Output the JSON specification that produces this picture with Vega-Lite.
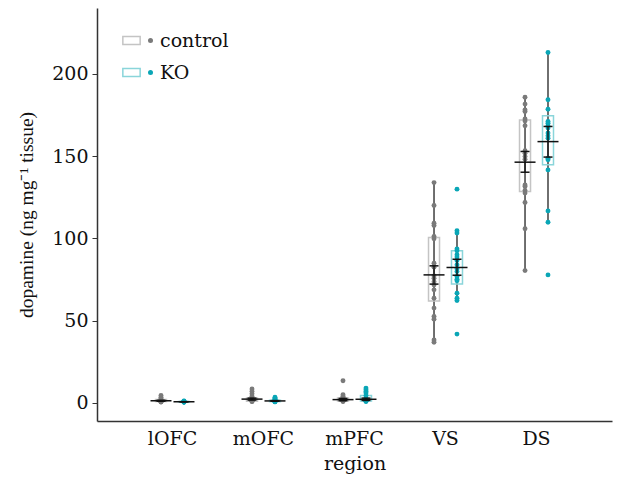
{
  "$schema": "https://vega.github.io/schema/vega-lite/v6.json",
  "width": 515,
  "height": 413,
  "autosize": {"type": "none"},
  "padding": {"left": 97, "top": 8, "right": 16, "bottom": 63},
  "background": "white",
  "config": {
    "view": {"stroke": null},
    "font": "DejaVu Serif",
    "axis": {"labelFont": "DejaVu Serif", "titleFont": "DejaVu Serif", "labelFontSize": 19, "titleFontSize": 19, "titleFontWeight": "normal", "labelColor": "#111", "titleColor": "#111", "domainColor": "#333", "domainWidth": 1.5, "tickColor": "#333", "grid": false},
    "legend": {"labelFont": "DejaVu Serif", "labelFontSize": 19, "labelColor": "#111"}
  },
  "datasets": {
    "pts": [
      {"region": "lOFC", "group": "control", "v": 4.5}, {"region": "lOFC", "group": "control", "v": 3.5}, {"region": "lOFC", "group": "control", "v": 2.5}, {"region": "lOFC", "group": "control", "v": 2}, {"region": "lOFC", "group": "control", "v": 1.5}, {"region": "lOFC", "group": "control", "v": 1.2}, {"region": "lOFC", "group": "control", "v": 1}, {"region": "lOFC", "group": "control", "v": 0.9}, {"region": "lOFC", "group": "control", "v": 0.8}, {"region": "lOFC", "group": "control", "v": 0.7}, {"region": "lOFC", "group": "control", "v": 0.6}, {"region": "lOFC", "group": "control", "v": 0.5}, {"region": "lOFC", "group": "control", "v": 1.1}, {"region": "lOFC", "group": "control", "v": 1.3},
      {"region": "lOFC", "group": "KO", "v": 1.2}, {"region": "lOFC", "group": "KO", "v": 1}, {"region": "lOFC", "group": "KO", "v": 0.9}, {"region": "lOFC", "group": "KO", "v": 0.8}, {"region": "lOFC", "group": "KO", "v": 0.7}, {"region": "lOFC", "group": "KO", "v": 0.6}, {"region": "lOFC", "group": "KO", "v": 0.5}, {"region": "lOFC", "group": "KO", "v": 0.5}, {"region": "lOFC", "group": "KO", "v": 0.4}, {"region": "lOFC", "group": "KO", "v": 0.6}, {"region": "lOFC", "group": "KO", "v": 0.7}, {"region": "lOFC", "group": "KO", "v": 0.8},
      {"region": "mOFC", "group": "control", "v": 8.5}, {"region": "mOFC", "group": "control", "v": 7}, {"region": "mOFC", "group": "control", "v": 5.5}, {"region": "mOFC", "group": "control", "v": 4}, {"region": "mOFC", "group": "control", "v": 3}, {"region": "mOFC", "group": "control", "v": 2.5}, {"region": "mOFC", "group": "control", "v": 2}, {"region": "mOFC", "group": "control", "v": 1.8}, {"region": "mOFC", "group": "control", "v": 1.5}, {"region": "mOFC", "group": "control", "v": 1.3}, {"region": "mOFC", "group": "control", "v": 1.2}, {"region": "mOFC", "group": "control", "v": 1}, {"region": "mOFC", "group": "control", "v": 0.9}, {"region": "mOFC", "group": "control", "v": 0.8},
      {"region": "mOFC", "group": "KO", "v": 3.5}, {"region": "mOFC", "group": "KO", "v": 2.8}, {"region": "mOFC", "group": "KO", "v": 2.2}, {"region": "mOFC", "group": "KO", "v": 1.8}, {"region": "mOFC", "group": "KO", "v": 1.5}, {"region": "mOFC", "group": "KO", "v": 1.3}, {"region": "mOFC", "group": "KO", "v": 1.1}, {"region": "mOFC", "group": "KO", "v": 1}, {"region": "mOFC", "group": "KO", "v": 0.9}, {"region": "mOFC", "group": "KO", "v": 0.8}, {"region": "mOFC", "group": "KO", "v": 0.7}, {"region": "mOFC", "group": "KO", "v": 0.6},
      {"region": "mPFC", "group": "control", "v": 13.5}, {"region": "mPFC", "group": "control", "v": 5}, {"region": "mPFC", "group": "control", "v": 4}, {"region": "mPFC", "group": "control", "v": 3.2}, {"region": "mPFC", "group": "control", "v": 2.8}, {"region": "mPFC", "group": "control", "v": 2.5}, {"region": "mPFC", "group": "control", "v": 2}, {"region": "mPFC", "group": "control", "v": 1.8}, {"region": "mPFC", "group": "control", "v": 1.5}, {"region": "mPFC", "group": "control", "v": 1.2}, {"region": "mPFC", "group": "control", "v": 1}, {"region": "mPFC", "group": "control", "v": 0.8},
      {"region": "mPFC", "group": "KO", "v": 9}, {"region": "mPFC", "group": "KO", "v": 8}, {"region": "mPFC", "group": "KO", "v": 7}, {"region": "mPFC", "group": "KO", "v": 6}, {"region": "mPFC", "group": "KO", "v": 4.5}, {"region": "mPFC", "group": "KO", "v": 3}, {"region": "mPFC", "group": "KO", "v": 2.5}, {"region": "mPFC", "group": "KO", "v": 2}, {"region": "mPFC", "group": "KO", "v": 1.5}, {"region": "mPFC", "group": "KO", "v": 1.2}, {"region": "mPFC", "group": "KO", "v": 1}, {"region": "mPFC", "group": "KO", "v": 0.8},
      {"region": "VS", "group": "control", "v": 133.9}, {"region": "VS", "group": "control", "v": 120}, {"region": "VS", "group": "control", "v": 109.2}, {"region": "VS", "group": "control", "v": 107.8}, {"region": "VS", "group": "control", "v": 101.1}, {"region": "VS", "group": "control", "v": 99.7}, {"region": "VS", "group": "control", "v": 84.9}, {"region": "VS", "group": "control", "v": 82.5}, {"region": "VS", "group": "control", "v": 77.2}, {"region": "VS", "group": "control", "v": 75.8}, {"region": "VS", "group": "control", "v": 73.7}, {"region": "VS", "group": "control", "v": 71.7}, {"region": "VS", "group": "control", "v": 68.7}, {"region": "VS", "group": "control", "v": 63.6}, {"region": "VS", "group": "control", "v": 57.6}, {"region": "VS", "group": "control", "v": 52.5}, {"region": "VS", "group": "control", "v": 50.9}, {"region": "VS", "group": "control", "v": 38.3}, {"region": "VS", "group": "control", "v": 36.9},
      {"region": "VS", "group": "KO", "v": 129.9}, {"region": "VS", "group": "KO", "v": 104.6}, {"region": "VS", "group": "KO", "v": 103.2}, {"region": "VS", "group": "KO", "v": 93.6}, {"region": "VS", "group": "KO", "v": 92.4}, {"region": "VS", "group": "KO", "v": 90}, {"region": "VS", "group": "KO", "v": 88.6}, {"region": "VS", "group": "KO", "v": 86.5}, {"region": "VS", "group": "KO", "v": 83.9}, {"region": "VS", "group": "KO", "v": 81.5}, {"region": "VS", "group": "KO", "v": 79.8}, {"region": "VS", "group": "KO", "v": 76.8}, {"region": "VS", "group": "KO", "v": 75.2}, {"region": "VS", "group": "KO", "v": 74.2}, {"region": "VS", "group": "KO", "v": 66.7}, {"region": "VS", "group": "KO", "v": 63.6}, {"region": "VS", "group": "KO", "v": 62.2}, {"region": "VS", "group": "KO", "v": 41.8},
      {"region": "DS", "group": "control", "v": 185.8}, {"region": "DS", "group": "control", "v": 181.6}, {"region": "DS", "group": "control", "v": 178.1}, {"region": "DS", "group": "control", "v": 177.1}, {"region": "DS", "group": "control", "v": 172.6}, {"region": "DS", "group": "control", "v": 171.4}, {"region": "DS", "group": "control", "v": 168.4}, {"region": "DS", "group": "control", "v": 153.2}, {"region": "DS", "group": "control", "v": 151.8}, {"region": "DS", "group": "control", "v": 149.7}, {"region": "DS", "group": "control", "v": 148.1}, {"region": "DS", "group": "control", "v": 132.5}, {"region": "DS", "group": "control", "v": 131.5}, {"region": "DS", "group": "control", "v": 129.1}, {"region": "DS", "group": "control", "v": 127.5}, {"region": "DS", "group": "control", "v": 121.8}, {"region": "DS", "group": "control", "v": 105.8}, {"region": "DS", "group": "control", "v": 80.4},
      {"region": "DS", "group": "KO", "v": 213}, {"region": "DS", "group": "KO", "v": 184.2}, {"region": "DS", "group": "KO", "v": 178.5}, {"region": "DS", "group": "KO", "v": 171}, {"region": "DS", "group": "KO", "v": 170}, {"region": "DS", "group": "KO", "v": 168.4}, {"region": "DS", "group": "KO", "v": 167}, {"region": "DS", "group": "KO", "v": 164}, {"region": "DS", "group": "KO", "v": 162.3}, {"region": "DS", "group": "KO", "v": 160.9}, {"region": "DS", "group": "KO", "v": 148.7}, {"region": "DS", "group": "KO", "v": 147.7}, {"region": "DS", "group": "KO", "v": 141.6}, {"region": "DS", "group": "KO", "v": 116.7}, {"region": "DS", "group": "KO", "v": 109.8}, {"region": "DS", "group": "KO", "v": 77.8}
    ],
    "sum": [
      {"region": "lOFC", "group": "control", "q1": 0.8, "q3": 2, "wlo": 0.5, "whi": 3.5, "mean": 1.3, "semlo": 1.0, "semhi": 1.6},
      {"region": "lOFC", "group": "KO", "q1": 0.55, "q3": 0.85, "wlo": 0.4, "whi": 1.2, "mean": 0.7, "semlo": 0.63, "semhi": 0.77},
      {"region": "mOFC", "group": "control", "q1": 1, "q3": 3, "wlo": 0.8, "whi": 5.5, "mean": 2.3, "semlo": 1.7, "semhi": 2.9},
      {"region": "mOFC", "group": "KO", "q1": 0.8, "q3": 1.6, "wlo": 0.6, "whi": 2.8, "mean": 1.2, "semlo": 1.0, "semhi": 1.4},
      {"region": "mPFC", "group": "control", "q1": 1.2, "q3": 3, "wlo": 0.8, "whi": 5, "mean": 2.0, "semlo": 1.3, "semhi": 2.7},
      {"region": "mPFC", "group": "KO", "q1": 1.2, "q3": 4.5, "wlo": 0.8, "whi": 9, "mean": 2.2, "semlo": 1.5, "semhi": 2.9},
      {"region": "VS", "group": "control", "q1": 62, "q3": 100.5, "wlo": 36.9, "whi": 133.9, "mean": 77.8, "semlo": 72.2, "semhi": 83.3},
      {"region": "VS", "group": "KO", "q1": 72.3, "q3": 92.4, "wlo": 62.2, "whi": 104.6, "mean": 82.3, "semlo": 77.6, "semhi": 87.3},
      {"region": "DS", "group": "control", "q1": 128.5, "q3": 172, "wlo": 80.4, "whi": 185.8, "mean": 146.3, "semlo": 140.2, "semhi": 152.8},
      {"region": "DS", "group": "KO", "q1": 144.7, "q3": 174.5, "wlo": 109.8, "whi": 213, "mean": 158.8, "semlo": 149.4, "semhi": 168}
    ]
  },
  "encoding": {
    "x": {
      "field": "region", "type": "nominal", "sort": ["lOFC", "mOFC", "mPFC", "VS", "DS"],
      "scale": {"type": "band", "paddingInner": 0.495, "paddingOuter": 0.577},
      "title": "region",
      "axis": {"ticks": false, "labelAngle": 0, "labelPadding": 8, "titlePadding": 6}
    },
    "xOffset": {"field": "group", "type": "nominal", "sort": ["control", "KO"], "scale": {"paddingInner": 0, "paddingOuter": 0}}
  },
  "layer": [
    {
      "data": {"name": "sum"},
      "mark": {"type": "rule", "color": "#222", "strokeWidth": 1.3},
      "encoding": {
        "y": {"field": "wlo", "type": "quantitative", "scale": {"domain": [-11, 240], "nice": false, "zero": false},
              "axis": {"values": [0, 50, 100, 150, 200], "tickSize": 5, "labelPadding": 4, "titlePadding": 15, "titleFont": "Liberation Serif", "titleFontSize": 19.5},
              "title": "dopamine (ng mg⁻¹ tissue)"},
        "y2": {"field": "whi"}
      }
    },
    {
      "data": {"name": "sum"},
      "mark": {"type": "bar", "width": 11, "fill": "white", "fillOpacity": 0, "strokeWidth": 1.5},
      "encoding": {
        "y": {"field": "q1", "type": "quantitative"},
        "y2": {"field": "q3"},
        "stroke": {"field": "group", "type": "nominal", "sort": ["control", "KO"],
                   "scale": {"range": ["#c4c4c4", "#8ad5da"]},
                   "legend": {"orient": "none", "legendX": 25, "legendY": 23, "title": null, "labelExpr": "''", "labelFontSize": 19,
                              "symbolType": "M-1,-0.45H1V0.45H-1Z", "symbolSize": 300, "symbolStrokeWidth": 1.5, "symbolFillColor": "transparent",
                              "rowPadding": 12, "padding": 0}}
      }
    },
    {
      "data": {"name": "pts"},
      "mark": {"type": "circle", "size": 24, "opacity": 1},
      "encoding": {
        "y": {"field": "v", "type": "quantitative"},
        "color": {"field": "group", "type": "nominal", "sort": ["control", "KO"],
                  "scale": {"range": ["#7a7a7a", "#0aa6b6"]},
                  "legend": {"orient": "none", "legendX": 44, "legendY": 23, "title": null, "labelFontSize": 19,
                             "symbolType": "circle", "symbolSize": 25, "rowPadding": 12, "padding": 0, "labelOffset": 0}}
      }
    },
    {
      "data": {"name": "sum"},
      "mark": {"type": "tick", "orient": "horizontal", "color": "#111", "size": 21, "thickness": 1.5, "opacity": 1},
      "encoding": {"y": {"field": "mean", "type": "quantitative"}}
    },
    {
      "data": {"name": "sum"},
      "mark": {"type": "rule", "color": "#111", "strokeWidth": 1.3},
      "encoding": {"y": {"field": "semlo", "type": "quantitative"}, "y2": {"field": "semhi"}}
    },
    {
      "data": {"name": "sum"},
      "mark": {"type": "tick", "orient": "horizontal", "color": "#111", "size": 9, "thickness": 1.5, "opacity": 1},
      "encoding": {"y": {"field": "semlo", "type": "quantitative"}}
    },
    {
      "data": {"name": "sum"},
      "mark": {"type": "tick", "orient": "horizontal", "color": "#111", "size": 9, "thickness": 1.5, "opacity": 1},
      "encoding": {"y": {"field": "semhi", "type": "quantitative"}}
    }
  ]
}
